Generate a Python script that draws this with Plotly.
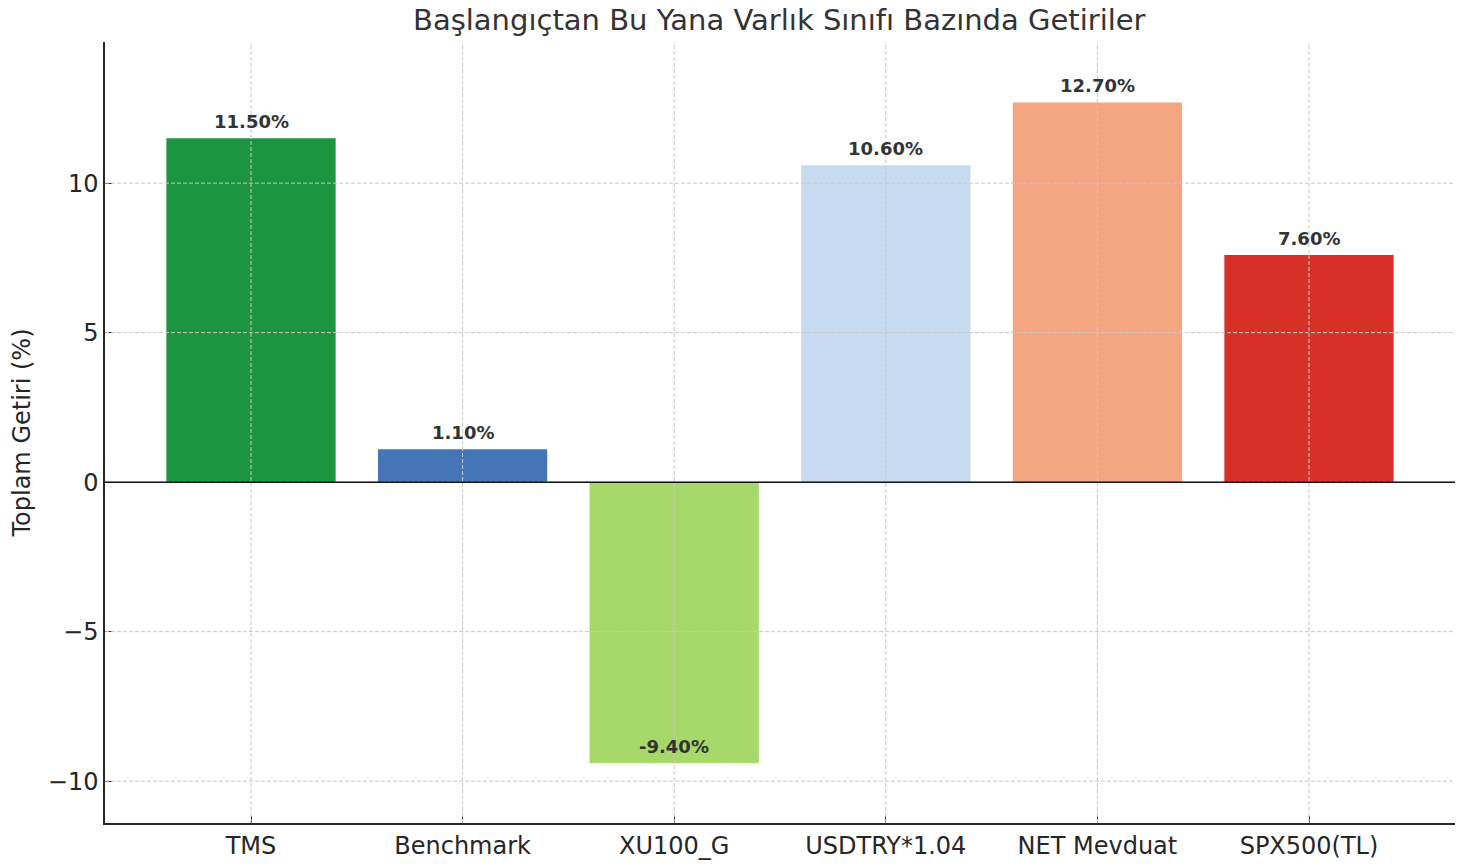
import plotly.graph_objects as go

CATEGORIES = ["TMS", "Benchmark", "XU100_G", "USDTRY*1.04", "NET Mevduat", "SPX500(TL)"]
RETURNS = [11.5, 1.1, -9.4, 10.6, 12.7, 7.6]
COLORS = ["#1c9440", "#4575b4", "#a6d96a", "#c6dbef", "#f4a582", "#d73027"]
Y_TICKS = [-10, -5, 0, 5, 10]

FONT = "DejaVu Sans, sans-serif"
GRID = "#c8c8c8"
GRID_DASH = "4px,2px"

fig = go.Figure(go.Bar(
    x=list(range(len(CATEGORIES))),
    y=RETURNS,
    marker=dict(color=COLORS, line=dict(width=0)),
    width=0.8,
    showlegend=False,
))

# value labels above each bar end
for i, v in enumerate(RETURNS):
    fig.add_annotation(
        x=i, y=v, text=f"<b>{v:.2f}%</b>",
        showarrow=False, yanchor="bottom", yshift=4,
        font=dict(family=FONT, size=18, color="#333333"),
    )

# dashed grid drawn over the bars, like matplotlib's
for i in range(len(CATEGORIES)):
    fig.add_shape(type="line", xref="x", yref="paper", x0=i, x1=i, y0=0, y1=1,
                  line=dict(color=GRID, width=1, dash=GRID_DASH), layer="above")
for t in Y_TICKS:
    fig.add_shape(type="line", xref="paper", yref="y", x0=0, x1=1, y0=t, y1=t,
                  line=dict(color=GRID, width=1, dash=GRID_DASH), layer="above")

# zero line
fig.add_shape(type="line", xref="paper", yref="y", x0=0, x1=1, y0=0, y1=0,
              line=dict(color="#111111", width=1.5), layer="above")

# page body adds an 8px margin, so the figure is a little smaller than the window
fig.update_layout(
    width=1458, height=856,
    paper_bgcolor="white", plot_bgcolor="white",
    font=dict(family=FONT, color="#262626"),
    margin=dict(l=97, r=11, t=34, b=41),
    title=dict(text="Başlangıçtan Bu Yana Varlık Sınıfı Bazında Getiriler",
               x=0.529, xanchor="center", y=0.986, yanchor="middle",
               font=dict(family=FONT, size=29, color="#333333")),
    bargap=0.2,
)
fig.update_xaxes(
    range=[-0.69, 5.69], automargin=False,
    tickmode="array", tickvals=list(range(len(CATEGORIES))), ticktext=CATEGORIES,
    showgrid=False, zeroline=False,
    showline=True, linecolor="#262626", linewidth=1.5,
    ticks="inside", ticklen=7, tickcolor="#262626",
    tickfont=dict(family=FONT, size=24, color="#262626"),
)
fig.update_yaxes(
    range=[-11.4, 14.72], automargin=False,
    tickmode="array", tickvals=Y_TICKS,
    showgrid=False, zeroline=False,
    showline=True, linecolor="#262626", linewidth=1.5,
    ticks="inside", ticklen=7, tickcolor="#262626",
    tickfont=dict(family=FONT, size=24, color="#262626"),
    title=dict(text="Toplam Getiri (%)", standoff=24,
               font=dict(family=FONT, size=24, color="#262626")),
)

fig.write_html("out.html")
